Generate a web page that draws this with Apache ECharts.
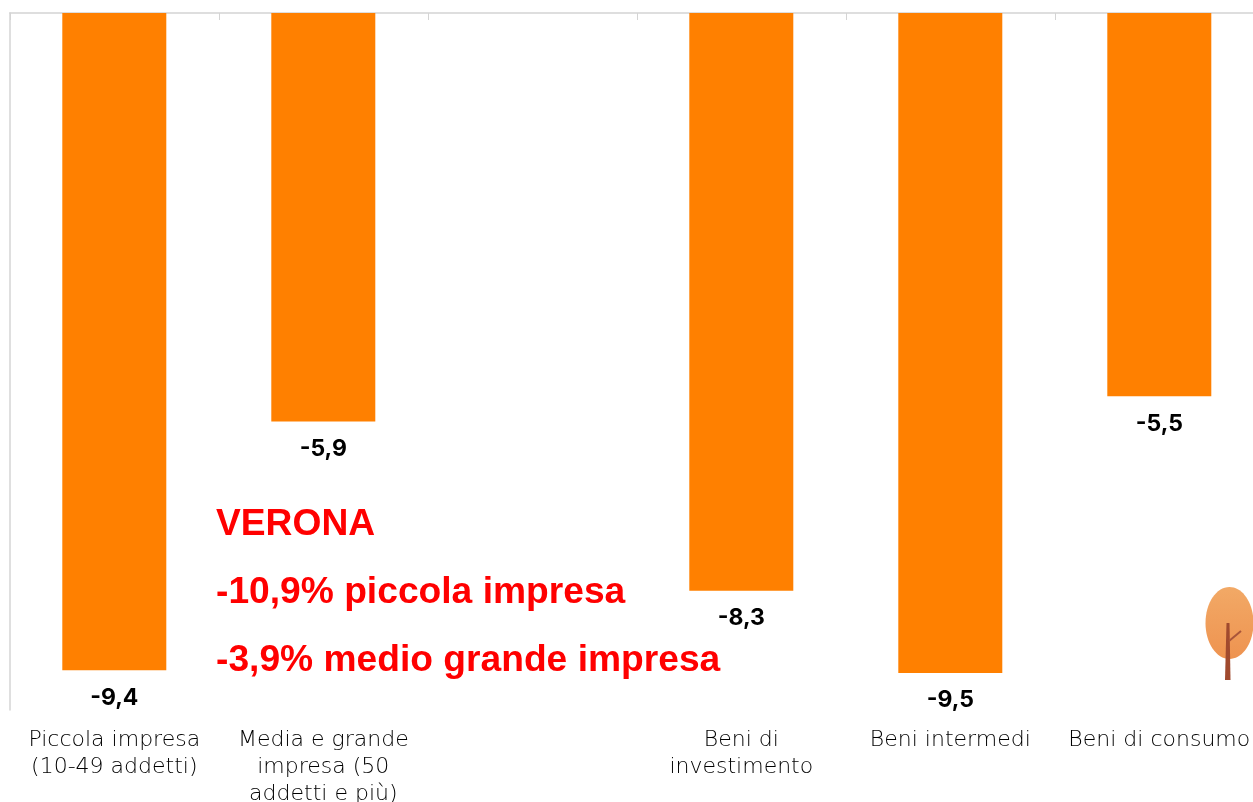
<!DOCTYPE html>
<html>
<head>
<meta charset="utf-8">
<title>Variazione per classe di impresa e settore</title>
<script src="https://cdn.jsdelivr.net/npm/echarts@6/dist/echarts.min.js"></script>
<style>
  html, body { margin: 0; padding: 0; background: #fff; }
  #chart { width: 1253px; height: 802px; }
</style>
</head>
<body>
<div id="chart"></div>
<script>
// dati (altezza delle barre, le etichette arrotondano a un decimale)
var categories = [
  "Piccola impresa\n(10-49 addetti)",
  "Media e grande\nimpresa (50\naddetti e più)",
  "",
  "Beni di\ninvestimento",
  "Beni intermedi",
  "Beni di consumo"
];
var values = [-9.43, -5.86, null, -8.29, -9.47, -5.5];
var noteLines = ["VERONA", "-10,9% piccola impresa", "-3,9% medio grande impresa"];

var chart = echarts.init(document.getElementById("chart"));

var noteFont = {
  fill: "#ff0000",
  fontFamily: "Liberation Sans",
  fontWeight: "bold",
  fontSize: 37.2
};

chart.setOption({
  animation: false,
  backgroundColor: "#ffffff",
  // il grafico esce a destra, come nell'originale
  grid: { left: 9.8, top: 13, width: 1254, height: 697, outerBoundsMode: "none" },
  xAxis: [
    {
      // asse in alto: solo linea e tacche
      type: "category",
      position: "top",
      data: categories,
      axisLine: { lineStyle: { color: "#d4d4d4", width: 1.5 } },
      axisTick: { show: true, inside: true, length: 7, lineStyle: { color: "#d4d4d4" } },
      axisLabel: { show: false }
    },
    {
      // asse in basso: solo etichette
      type: "category",
      position: "bottom",
      data: categories,
      axisLine: { show: false },
      axisTick: { show: false },
      axisLabel: {
        interval: 0,
        margin: 17,
        color: "#000000",
        fontFamily: "DejaVu Sans ExtraLight, DejaVu Sans",
        fontWeight: 200,
        fontSize: 22,
        lineHeight: 27
      }
    }
  ],
  yAxis: {
    type: "value",
    min: -10,
    max: 0,
    axisLine: { show: true, lineStyle: { color: "#d4d4d4", width: 1.5 } },
    axisTick: { show: false },
    axisLabel: { show: false },
    splitLine: { show: false }
  },
  series: [
    {
      type: "bar",
      xAxisIndex: 0,
      data: values,
      barWidth: 104,
      itemStyle: { color: "#ff8000" },
      label: {
        show: true,
        position: "bottom",
        distance: 16,
        color: "#000000",
        fontFamily: "Inter",
        fontWeight: "bold",
        fontSize: 23,
        formatter: function (p) {
          return String(p.value.toFixed(1)).replace(".", ",");
        }
      }
    }
  ],
  graphic: [
    { type: "text", left: 216, top: 506, style: Object.assign({ text: noteLines[0] }, noteFont) },
    { type: "text", left: 216, top: 574, style: Object.assign({ text: noteLines[1] }, noteFont) },
    { type: "text", left: 216, top: 642, style: Object.assign({ text: noteLines[2] }, noteFont) },
    // alberello decorativo
    {
      type: "ellipse",
      shape: { cx: 1229.5, cy: 623, rx: 24, ry: 36 },
      style: {
        fill: new echarts.graphic.LinearGradient(0, 0, 0, 1, [
          { offset: 0, color: "#f2a966" },
          { offset: 1, color: "#ee9350" }
        ])
      }
    },
    {
      type: "polygon",
      shape: { points: [[1226.5, 623], [1229.5, 623], [1230.5, 680], [1225, 680]] },
      style: { fill: "#a04a2e" }
    },
    {
      type: "polyline",
      shape: { points: [[1229, 641], [1241, 631]] },
      style: { stroke: "#a8553a", lineWidth: 2, fill: null }
    }
  ]
});
</script>
</body>
</html>
